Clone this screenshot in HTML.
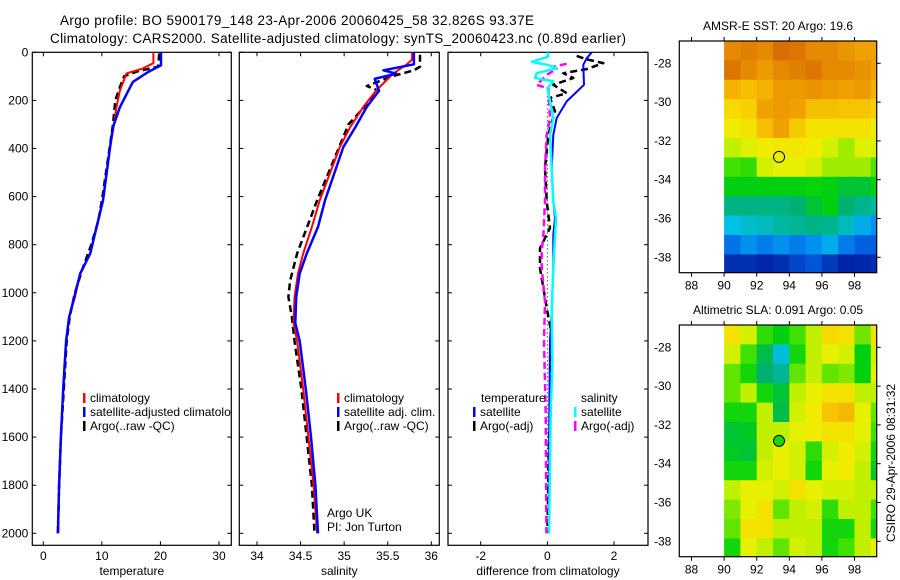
<!DOCTYPE html>
<html><head><meta charset="utf-8"><style>
body{margin:0;background:#fff;}
svg{display:block;font-family:"Liberation Sans",sans-serif;}
</style></head><body>
<svg id="fig" width="900" height="580" viewBox="0 0 900 580" xmlns="http://www.w3.org/2000/svg">
<rect width="900" height="580" fill="#fff"/>
<text x="60" y="25" font-size="13.5" textLength="474">Argo profile: BO 5900179_148 23-Apr-2006 20060425_58 32.826S 93.37E</text>
<text x="50" y="43" font-size="13.5" textLength="576">Climatology: CARS2000. Satellite-adjusted climatology: synTS_20060423.nc (0.89d earlier)</text>
<g id="layer"></g>
</svg>
<script>
// ---------- data ----------
const depthTicks=[0,200,400,600,800,1000,1200,1400,1600,1800,2000];
const tempTicks=[0,10,20,30];
const salTicks=[34,34.5,35,35.5,36];
const diffTicks=[-2,0,2];
const tempClimD=[0,45,67,88,158,227,310,394,616,726,837,920,1018,1102,1200,1400,1600,1800,2000];
const tempClimV=[18.8,18.8,17,14.2,13.1,12.5,12,11.4,10.2,9.1,8,6.3,5.4,4.4,3.9,3.4,3.0,2.7,2.55];
const tempSatD=[0,54,82,123,227,310,394,616,726,837,920,1018,1102,1200,1400,1600,1800,2000];
const tempSatV=[20.1,20.1,17.9,15.3,13.1,11.9,11.4,10.2,9.1,8,6.3,5.3,4.4,3.9,3.4,3.0,2.7,2.5];
const tempArgoD=[5,60,80,100,150,200,300,400,600,700,800,900,1000,1100,1200,1400,1600,1800,2000];
const tempArgoV=[19.8,19.6,16,13.8,13,12.3,11.9,11.3,10.1,9.4,8.2,6.7,5.4,4.5,4,3.5,3.0,2.7,2.5];
const salClimD=[0,30,50,89,158,227,310,394,616,726,837,920,1018,1126,1200,1400,1600,1800,2000];
const salClimV=[35.78,35.78,35.72,35.56,35.37,35.22,35.07,34.95,34.72,34.63,34.53,34.47,34.43,34.42,34.46,34.53,34.59,34.65,34.69];
const salSatD=[0,50,75,89,110,140,160,227,310,394,616,726,837,920,1018,1126,1200,1400,1600,1800,2000];
const salSatV=[35.8,35.8,35.45,35.6,35.35,35.38,35.4,35.26,35.13,34.99,34.78,34.7,34.57,34.49,34.45,34.44,34.49,34.56,34.62,34.67,34.7];
const salArgoD=[10,60,75,100,140,160,200,300,616,837,950,1018,1100,1200,1400,1600,1800,2000];
const salArgoV=[35.87,35.87,35.8,35.55,35.26,35.4,35.3,35.05,34.69,34.46,34.38,34.36,34.4,34.43,34.51,34.57,34.63,34.66];
const dTempSatD=[0,25,52,135,204,273,343,481,620,690,760,898,1078,1200,1500,2000];
const dTempSatV=[1.33,1.18,1.08,1.1,0.58,0.28,0.18,0.13,0.18,0.23,0.18,0.18,0.13,0.08,0.06,0.05];
const dSalSatD=[0,18,40,52,66,87,107,121,149,273,343,481,620,690,760,898,1078,1300,1500,2000];
const dSalSatV=[0,0.03,-0.47,0,0.28,-0.32,-0.37,0.18,0,0.18,0.08,0.13,0.18,0.26,0.23,0.18,0.13,0.15,0.1,0.05];
const dTempArgoD=[15,30,45,70,87,107,135,170,190,245,343,481,620,730,815,898,980,1064,1150,1500,1600,2000];
const dTempArgoV=[0.88,1.2,1.68,1.18,0.48,0.78,0.18,0.58,0.08,0.23,0.03,-0.07,-0.02,0.08,-0.22,-0.22,-0.12,-0.02,0.1,0.1,0.05,0.0];
const dSalArgoD=[48,60,69,94,136,150,273,343,481,620,760,830,898,1036,1200,1500,2000];
const dSalArgoV=[0.58,0.18,0.28,-0.02,-0.32,0.03,0.08,-0.02,-0.07,-0.07,-0.12,-0.17,-0.17,-0.07,-0.1,-0.05,-0.03];
const lonTicks=[88,90,92,94,96,98];
const latTicks=[-28,-30,-32,-34,-36,-38];
const gridLon=[90,91,92,93,94,95,96,97,98,99];
const gridLatTop=[-26.85,-27.85,-28.85,-29.85,-30.85,-31.85,-32.85,-33.85,-34.85,-35.85,-36.85,-37.85];
const sstGrid=[
[8.7,9,8.7,9.4,9.2,8.7,8.7,8.3,8,8],
[9.2,8.7,8.2,8.7,9,9.2,8.7,8.7,8.4,8],
[7.7,7.5,7.7,8.2,8.2,8.4,8.2,8,8.2,7.7],
[7,7.2,8,8.2,8,7.5,7.5,7.4,7.4,7.2],
[6.6,6.8,7.5,8,7.3,6.8,6.8,6.8,6.8,6.6],
[6,6.3,6.6,6.7,6.7,6.6,6.2,5.8,6.3,6.3],
[5.2,5,6.2,6.4,6.4,6.2,5.8,5.8,5.8,5.3],
[4.5,4.5,4.5,4.5,4.5,4.6,4.5,4.3,4.3,4.5],
[3.8,3.8,3.8,3.8,4,4.3,4.5,4,3.7,3.5],
[3,3.2,3.3,3.5,3.6,3.8,3.7,3.3,2.8,2.5],
[2.2,2.5,2.3,2.5,2.3,2.5,2.8,2.3,2,2],
[1,1,0.8,1,1.5,1.8,1.2,0.7,0.8,1]];
const slaGrid=[
[6.8,6.2,5,4.5,5.2,6,7,6.8,5.5,6.8],
[6.2,5.2,4.2,3.1,4.7,6,6.4,6.2,4.5,6.2],
[5.4,4.7,4,3.6,5.4,6,5.4,5.6,4.5,6.4],
[5.4,6,4.7,4.3,6,6.4,6.8,6.8,6,6],
[4.7,4.7,6,4.2,6.2,6.6,7.4,7.6,6.4,5.4],
[4.3,4.4,6,6,6.4,6.6,6.8,6.8,6.4,5.2],
[4.4,4.3,6,6.4,6.2,5,6.2,6.6,6.2,4.7],
[4.7,4.7,6.2,6.4,6.2,4.7,6.4,6.6,6,4.4],
[6,6.4,6.4,6.2,6.8,6.4,6.2,6.2,6,6],
[5.6,6.4,6.8,5.4,6,6.2,5,6,6,5.2],
[5.4,6.8,6.8,6,6,6,4.7,4.7,6,4.7],
[4.7,6.4,6,5.4,6.2,6,4.7,5.2,6,6.4]];
const argoLon=93.37, argoLat=-32.826;

// ---------- helpers ----------
const NS="http://www.w3.org/2000/svg";
const layer=document.getElementById('layer');
function mk(tag,attrs,parent){const e=document.createElementNS(NS,tag);for(const k in attrs)e.setAttribute(k,attrs[k]);(parent||layer).appendChild(e);return e;}
const Y0=52.3,Y1=545.3;
function yD(d){return Y0+d*0.2405;}
function lin(a,b,pa,pb){return v=>pa+(v-a)*(pb-pa)/(b-a);}
const panels=[
 {x0:32.3,x1:231.3,f:lin(0,30,43.3,219),ticks:tempTicks,label:'temperature',name:'temperature-panel'},
 {x0:239.3,x1:439.3,f:lin(34,36,257,431.3),ticks:salTicks,label:'salinity',name:'salinity-panel'},
 {x0:448,x1:648,f:lin(-2,2,480.7,614),ticks:diffTicks,label:'difference from climatology',name:'difference-panel'}];
const defs=mk('defs',{});
panels.forEach((p,i)=>{
  const cp=mk('clipPath',{id:'cp'+i},defs);
  mk('rect',{x:p.x0,y:Y0,width:p.x1-p.x0,height:Y1-Y0},cp);
  const g=mk('g',{});
  
  
  p.g=g;
  const fr=mk('rect',{x:p.x0,y:Y0,width:p.x1-p.x0,height:Y1-Y0,fill:'none',stroke:'#000','stroke-width':1.2},g);
  
  
  depthTicks.forEach(d=>{
    const y=yD(d);
    mk('line',{x1:p.x0,x2:p.x0+4,y1:y,y2:y,stroke:'#000'},g);
    mk('line',{x1:p.x1-4,x2:p.x1,y1:y,y2:y,stroke:'#000'},g);
    if(i===0){const t=mk('text',{x:p.x0-4,y:y+4,'font-size':12,'text-anchor':'end'},g);t.textContent=d;
      
      }
  });
  p.ticks.forEach(v=>{
    const x=p.f(v);
    mk('line',{x1:x,x2:x,y1:Y1,y2:Y1-4,stroke:'#000'},g);
    mk('line',{x1:x,x2:x,y1:Y0,y2:Y0+4,stroke:'#000'},g);
    const t=mk('text',{x:x,y:560,'font-size':12,'text-anchor':'middle'},g);t.textContent=v;
    
    
  });
  const xl=mk('text',{x:(p.x0+p.x1)/2,y:575,'font-size':12,'text-anchor':'middle'},g);
  xl.textContent=p.label;
  
  
});
function line(p,D,V,color,w,dash,name){
  const pts=D.map((d,k)=>p.f(V[k]).toFixed(1)+','+yD(d).toFixed(1)).join(' ');
  const a={points:pts,fill:'none',stroke:color,'stroke-width':w,'clip-path':'url(#cp'+panels.indexOf(p)+')','stroke-linejoin':'round'};
  if(dash)a['stroke-dasharray']=dash;
  const e=mk('polyline',a,p.g);
  
  
}
const [P1,P2,P3]=panels;
line(P1,tempArgoD,tempArgoV,'#000',2.5,'7 4','argo-temperature-line');
line(P1,tempClimD,tempClimV,'#f00',2,null,'climatology-temperature-line');
line(P1,tempSatD,tempSatV,'#00f',2.5,null,'satellite-temperature-line');
line(P2,salArgoD,salArgoV,'#000',2.5,'7 4','argo-salinity-line');
line(P2,salClimD,salClimV,'#f00',2,null,'climatology-salinity-line');
line(P2,salSatD,salSatV,'#00f',2.5,null,'satellite-salinity-line');
{const z=mk('line',{x1:P3.f(0),x2:P3.f(0),y1:yD(150),y2:yD(2000),stroke:'#000','stroke-width':1,'stroke-dasharray':'1 3'},P3.g);
 
 }
line(P3,dTempArgoD,dTempArgoV,'#000',2.5,'7 4','argo-temperature-difference-line');
line(P3,dSalArgoD,dSalArgoV,'#f0f',2.5,'7 4','argo-salinity-difference-line');
line(P3,dTempSatD,dTempSatV,'#00f',2,null,'satellite-temperature-difference-line');
line(P3,dSalSatD,dSalSatV,'#0ff',2.5,null,'satellite-salinity-difference-line');

function legend(g,x,y,color,text,clip,name){
  const lg=mk('g',clip?{'clip-path':'url(#'+clip+')'}:{},g);
  
  
  mk('rect',{x:x,y:y-9,width:2.5,height:10,fill:color},lg);
  const t=mk('text',{x:x+7,y:y,'font-size':12},lg);t.textContent=text;
}
legend(P1.g,83,402,'#f00','climatology','cp0','legend-entry-climatology');
legend(P1.g,83,416,'#00f','satellite-adjusted climatology','cp0','legend-entry-satellite');
legend(P1.g,83,430,'#000','Argo(..raw -QC)','cp0','legend-entry-argo');
legend(P2.g,337,402,'#f00','climatology',null,'legend-entry-climatology');
legend(P2.g,337,416,'#00f','satellite adj. clim.',null,'legend-entry-satellite');
legend(P2.g,337,430,'#000','Argo(..raw -QC)',null,'legend-entry-argo');
{const t=mk('text',{x:481,y:402,'font-size':12},P3.g);t.textContent='temperature';
 
 
 const s=mk('text',{x:581,y:402,'font-size':12},P3.g);s.textContent='salinity';
 
 }
legend(P3.g,473,416,'#00f','satellite',null,'legend-entry-temp-satellite');
legend(P3.g,473,430,'#000','Argo(-adj)',null,'legend-entry-temp-argo');
legend(P3.g,574,416,'#0ff','satellite',null,'legend-entry-sal-satellite');
legend(P3.g,574,430,'#f0f','Argo(-adj)',null,'legend-entry-sal-argo');
{const t=mk('text',{x:327,y:517,'font-size':12},P2.g);t.textContent='Argo UK';
 
 
 const t2=mk('text',{x:327,y:531,'font-size':12},P2.g);t2.textContent='PI: Jon Turton';
 
 }

// ---------- maps ----------
const cmapStops=[[0,[0,0,143]],[1,[0,48,176]],[2,[0,96,224]],[2.5,[0,144,240]],[3,[0,192,232]],[3.5,[0,184,160]],[4,[0,176,112]],[4.5,[0,208,16]],[5.2,[64,224,0]],[6,[192,240,0]],[6.5,[240,240,0]],[7.2,[248,208,0]],[8,[240,160,0]],[9,[224,128,0]],[10,[208,80,0]]];
function cmap(v){
  for(let i=0;i<cmapStops.length-1;i++){const [a,ca]=cmapStops[i],[b,cb]=cmapStops[i+1];
    if(v<=b){const t=Math.max(0,(v-a)/(b-a));return 'rgb('+ca.map((c,k)=>Math.round(c+(cb[k]-c)*t)).join(',')+')';}}
  return 'rgb(208,80,0)';
}
function drawMap(top,grid,title,name,filled){
  const x0=679.3,x1=876.7,y0=top,y1=top+231.7;
  const fx=lin(88,98,691.5,854.5), fy=lat=>y0+(-26.85-lat)*19.4;
  const g=mk('g',{});
  
  
  const cid='mc'+Math.round(top);
  const cp=mk('clipPath',{id:cid},defs);mk('rect',{x:x0,y:y0,width:x1-x0,height:y1-y0},cp);
  const cg=mk('g',{'clip-path':'url(#'+cid+')'},g);
  grid.forEach((row,r)=>row.forEach((v,c)=>{
    const xa=fx(gridLon[c]),ya=fy(gridLatTop[r]);
    const cell=mk('rect',{x:xa,y:ya,width:fx(gridLon[c]+1)-xa+0.5,height:19.9,fill:cmap(v)},cg);
    
    
  }));
  mk('rect',{x:x0,y:y0,width:x1-x0,height:y1-y0,fill:'none',stroke:'#000','stroke-width':1.2},g);
  lonTicks.forEach(v=>{const x=fx(v);
    mk('line',{x1:x,x2:x,y1:y0,y2:y0-4,stroke:'#000'},g);
    mk('line',{x1:x,x2:x,y1:y1,y2:y1+4,stroke:'#000'},g);
    const t=mk('text',{x:x,y:y1+17,'font-size':12,'text-anchor':'middle'},g);t.textContent=v;
    
    });
  latTicks.forEach(v=>{const y=y0+(-26.85-v)*19.4;
    mk('line',{x1:x1,x2:x1+4,y1:y,y2:y,stroke:'#000'},g);
    const t=mk('text',{x:x0-8,y:y+4,'font-size':12,'text-anchor':'end'},g);t.textContent=v;
    
    });
  const tt=mk('text',{x:778,y:y0-11,'font-size':12,'text-anchor':'middle'},g);tt.textContent=title;
  
  
  const m=mk('circle',{cx:fx(argoLon),cy:fy(argoLat),r:5.5,fill:filled?cmap(4.8):'none',stroke:'#000','stroke-width':1},g);
  
  
}
drawMap(41,sstGrid,'AMSR-E SST: 20 Argo: 19.6','sst-map',false);
drawMap(325,slaGrid,'Altimetric SLA: 0.091 Argo: 0.05','sla-map',true);
{const t=mk('text',{x:0,y:0,'font-size':12,'text-anchor':'middle',transform:'translate(895,463) rotate(-90)'});
 t.textContent='CSIRO 29-Apr-2006 08:31:32';
 
 }
</script>
</body></html>
